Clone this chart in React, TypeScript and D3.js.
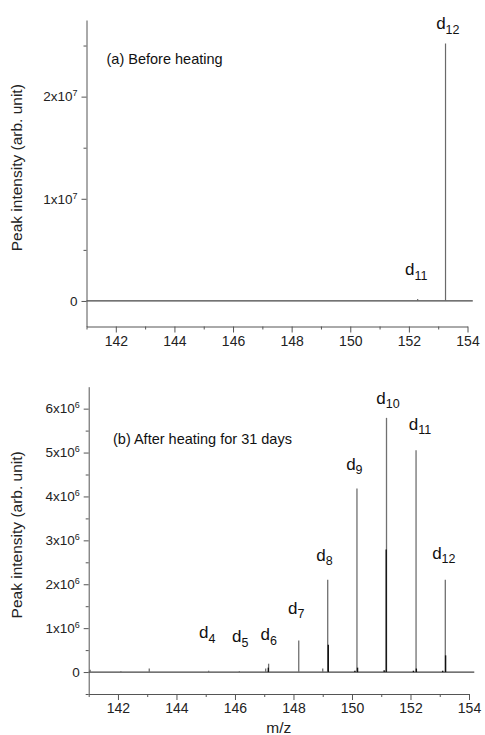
import React, { useRef, useEffect } from "react";
import * as d3 from "d3";

// shared m/z axis
const mzDomain = [141, 154];
const mzEnd = 154.18; // spectrum baseline runs a bit past the axis
const mzMajor = [142, 144, 146, 148, 150, 152, 154];
const mzMinor = [141, 143, 145, 147, 149, 151, 153];

// (a) before heating
const mzA = [152.3, 153.25];
const intA = [0.02e7, 2.52e7];
const yDomainA = [-0.25e7, 2.75e7];
const yMajorA = [0, 1e7, 2e7];
const yMinorA = [0.5e7, 1.5e7, 2.5e7];
const labelSubA = ["11", "12"];
const labelMzA = [151.87, 152.93];
const labelIntA = [0.25e7, 2.66e7];

// (b) after heating for 31 days - grey trace
const mzB = [141.05, 142.1, 143.07, 145.1, 146.15, 147.05, 147.15, 148.18, 149.0, 149.17, 150.17, 151.18, 152.19, 153.19];
const intB = [0.05e6, 0.02e6, 0.08e6, 0.03e6, 0.02e6, 0.08e6, 0.19e6, 0.72e6, 0.08e6, 2.1e6, 4.18e6, 5.79e6, 5.05e6, 2.1e6];
// darker overlaid trace
const mzB2 = [147.14, 149.19, 150.19, 151.17, 152.2, 153.2, 150.1, 151.1, 152.1, 153.1];
const intB2 = [0.1e6, 0.62e6, 0.1e6, 2.79e6, 0.08e6, 0.38e6, 0.03e6, 0.04e6, 0.03e6, 0.03e6];
const yDomainB = [-0.5e6, 6.5e6];
const yMajorB = [0, 1e6, 2e6, 3e6, 4e6, 5e6, 6e6];
const yMinorB = [-0.5e6, 0.5e6, 1.5e6, 2.5e6, 3.5e6, 4.5e6, 5.5e6];
const labelSubB = ["4", "5", "6", "7", "8", "9", "10", "11", "12"];
const labelMzB = [144.77, 145.9, 146.87, 147.81, 148.78, 149.8, 150.83, 151.94, 152.74];
const labelIntB = [0.77e6, 0.68e6, 0.72e6, 1.33e6, 2.54e6, 4.61e6, 6.11e6, 5.52e6, 2.58e6];

const FONT = "'Liberation Sans', Arial, sans-serif";
const AXIS = "#555";

const App = () => {
  const svgRef = useRef<SVGSVGElement>(null);

  useEffect(() => {
    const svg = d3.select(svgRef.current);
    svg.selectAll("*").remove();

    const panels = [
      {
        box: { left: 86.5, right: 467.5, top: 20, bottom: 326.5 },
        yDomain: yDomainA, yMajor: yMajorA, yMinor: yMinorA,
        peaks: [{ mz: mzA, int: intA, color: "#6a6a6a", w: 1.2 }],
        labels: { sub: labelSubA, mz: labelMzA, int: labelIntA },
        title: "(a) Before heating", titlePos: [106.5, 63.5],
        xTitle: false,
      },
      {
        box: { left: 88.7, right: 469, top: 386.7, bottom: 694 },
        yDomain: yDomainB, yMajor: yMajorB, yMinor: yMinorB,
        peaks: [
          { mz: mzB, int: intB, color: "#707070", w: 1.3 },
          { mz: mzB2, int: intB2, color: "#111", w: 1.4 },
        ],
        labels: { sub: labelSubB, mz: labelMzB, int: labelIntB },
        title: "(b) After heating for 31 days", titlePos: [113, 443.5],
        xTitle: true,
      },
    ];

    panels.forEach((p) => {
      const { box } = p;
      const x = d3.scaleLinear().domain(mzDomain).range([box.left, box.right]);
      const y = d3.scaleLinear().domain(p.yDomain).range([box.bottom, box.top]);
      const g = svg.append("g");

      // baseline of the spectrum
      g.append("line")
        .attr("x1", x(mzDomain[0])).attr("x2", x(mzEnd))
        .attr("y1", y(0)).attr("y2", y(0))
        .attr("stroke", "#444").attr("stroke-width", 1.2);

      // peaks as sticks
      p.peaks.forEach((s) => {
        g.selectAll(null)
          .data(s.mz.map((m, i) => ({ m, v: s.int[i] })))
          .join("line")
          .attr("x1", (d) => x(d.m)).attr("x2", (d) => x(d.m))
          .attr("y1", y(0)).attr("y2", (d) => y(d.v))
          .attr("stroke", s.color).attr("stroke-width", s.w);
      });

      // x axis
      const xAxis = g.append("g").attr("transform", `translate(0,${box.bottom})`);
      xAxis.call(d3.axisBottom(x).tickValues(mzMajor).tickSize(6).tickSizeOuter(0).tickPadding(3.5).tickFormat(d3.format("d")));
      xAxis.selectAll("text").attr("fill", "#222").style("font-family", FONT).style("font-size", "14px");
      xAxis.append("g").call(d3.axisBottom(x).tickValues(mzMinor).tickSize(3).tickSizeOuter(0).tickFormat(() => ""))
        .select(".domain").remove();
      xAxis.selectAll("path,line").attr("stroke", AXIS);

      // y axis
      const yAxis = g.append("g").attr("transform", `translate(${box.left},0)`);
      yAxis.call(d3.axisLeft(y).tickValues(p.yMajor).tickSize(5).tickSizeOuter(0).tickPadding(4));
      yAxis.selectAll(".tick text")
        .attr("fill", "#222").style("font-family", FONT).style("font-size", "13.5px")
        .each(function (d: any) {
          const t = d3.select(this);
          t.text(null);
          if (d === 0) { t.text("0"); return; }
          const e = Math.floor(Math.log10(d) + 1e-9);
          const m = Math.round(d / Math.pow(10, e));
          t.append("tspan").text(`${m}x10`);
          t.append("tspan").attr("dy", "-5").style("font-size", "9px").text(`${e}`);
        });
      yAxis.append("g").call(d3.axisLeft(y).tickValues(p.yMinor).tickSize(3).tickSizeOuter(0).tickFormat(() => ""))
        .select(".domain").remove();
      yAxis.selectAll("path,line").attr("stroke", AXIS);

      // y title
      g.append("text")
        .attr("transform", `translate(22,${(box.top + box.bottom) / 2 - 5.5}) rotate(-90)`)
        .attr("text-anchor", "middle")
        .style("font-family", FONT).style("font-size", "15.5px").attr("fill", "#222")
        .text("Peak intensity (arb. unit)");

      // panel caption
      g.append("text")
        .attr("x", p.titlePos[0]).attr("y", p.titlePos[1])
        .style("font-family", FONT).style("font-size", "14.5px").attr("fill", "#111")
        .text(p.title);

      // peak labels d_n
      p.labels.sub.forEach((s, i) => {
        const t = g.append("text")
          .attr("x", x(p.labels.mz[i])).attr("y", y(p.labels.int[i]))
          .style("font-family", FONT).attr("fill", "#111");
        t.append("tspan").style("font-size", "17px").text("d");
        t.append("tspan").attr("dy", "4.5").style("font-size", "12.5px").text(s);
      });

      if (p.xTitle) {
        g.append("text")
          .attr("x", (box.left + box.right) / 2).attr("y", 732.5)
          .attr("text-anchor", "middle")
          .style("font-family", FONT).style("font-size", "15.5px").attr("fill", "#222")
          .text("m/z");
      }
    });
  }, []);

  return (
    <div>
      <style>{`body { margin: 0; background: #fff; }`}</style>
      <svg ref={svgRef} width={485} height={735} style={{ display: "block" }}></svg>
    </div>
  );
};

export default App;
